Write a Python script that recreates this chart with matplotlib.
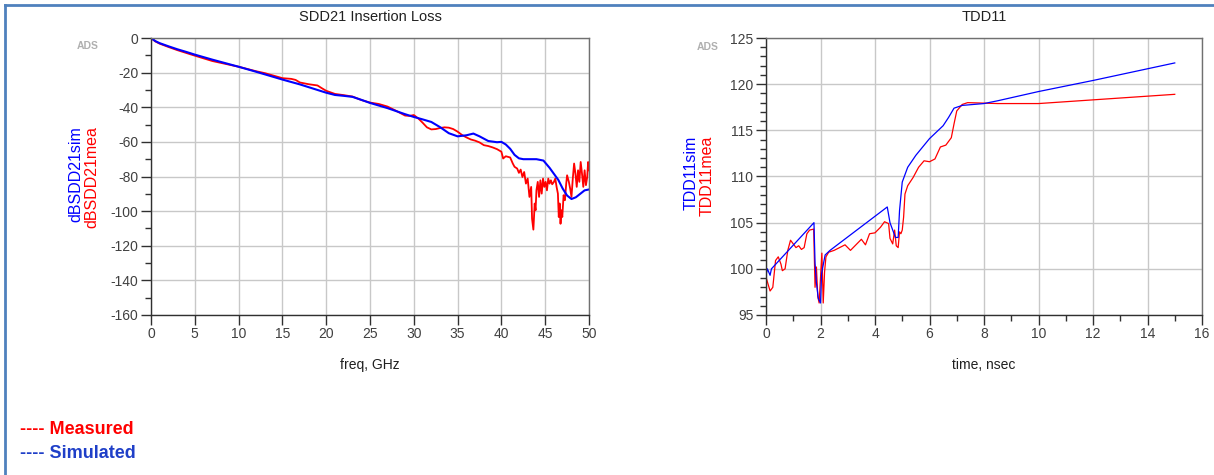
import matplotlib
matplotlib.use("Agg")
import matplotlib.pyplot as plt
from matplotlib.lines import Line2D
from matplotlib.ticker import MultipleLocator

plt.rcParams['font.family'] = ['Liberation Sans', 'DejaVu Sans']
plt.rcParams['axes.unicode_minus'] = False

# SDD21 insertion loss (dB) vs frequency (GHz)
freq_sim = [0, 0.5, 1, 2, 3, 4, 5, 7, 10, 12, 15, 17, 19, 20, 21, 22, 23, 24, 25, 27,
            29, 30, 31, 32, 33, 34, 35, 36, 36.8, 37.5, 38.5, 39.5, 40, 40.5, 41, 41.5,
            42, 42.5, 43, 44, 44.8, 45.5, 46, 46.5, 47, 47.5, 48, 48.5, 49, 49.5, 50]
sdd21_sim = [0, -1.8, -3.0, -4.8, -6.5, -8.0, -9.6, -12.5, -16.6, -19.5, -24.0, -26.8,
             -30.0, -31.6, -32.9, -33.4, -34.0, -35.7, -37.5, -40.5, -44.0, -45.6, -47.0,
             -48.5, -51.5, -55.0, -56.8, -56.2, -55.2, -56.8, -59.5, -60.2, -60.0, -61.5,
             -64.0, -67.5, -69.5, -70.0, -70.0, -70.0, -70.8, -75.0, -78.5, -82.0, -87.0,
             -91.0, -93.0, -92.0, -90.0, -88.0, -87.5]

freq_mea = [0, 0.5, 1, 2, 3, 4, 5, 7, 10, 12, 13, 15, 16, 16.5, 17, 18, 19, 19.5, 20, 21,
            22, 23, 24, 25, 26, 27, 28, 29, 29.5, 30, 30.5, 31, 31.5, 32, 32.5, 33, 33.5,
            34, 34.5, 35, 35.5, 36, 36.5, 37, 37.5, 38, 38.5, 39, 39.5, 40, 40.2, 40.5, 41,
            41.3, 41.5, 41.8, 42, 42.2, 42.4, 42.6, 42.8, 43.0, 43.2, 43.4, 43.5, 43.65,
            43.8, 43.9, 44.0, 44.15, 44.3, 44.45, 44.6, 44.75, 44.9, 45.05, 45.2, 45.35,
            45.5, 45.65, 45.8, 46.0, 46.15, 46.3, 46.45, 46.55, 46.65, 46.75, 46.85, 46.95,
            47.1, 47.25, 47.4, 47.5, 47.7, 47.85, 48.0, 48.15, 48.3, 48.45, 48.6, 48.75,
            48.9, 49.05, 49.2, 49.35, 49.5, 49.65, 49.8, 49.9, 50]
sdd21_mea = [0, -2.0, -3.3, -5.2, -7.0, -8.6, -10.2, -13.3, -16.6, -19.2, -20.3, -23.2,
             -23.6, -24.2, -25.7, -26.7, -27.4, -29.0, -30.5, -32.3, -33.0, -33.8, -35.8,
             -37.3, -38.1, -39.6, -42.1, -44.8, -45.0, -44.5, -46.4, -48.9, -51.6, -52.8,
             -52.6, -52.0, -51.6, -51.8, -52.6, -54.1, -56.0, -57.4, -58.6, -59.3, -60.3,
             -61.9, -62.4, -63.2, -64.2, -65.7, -69.6, -68.3, -69.0, -72.5, -74.4, -75.4,
             -77.9, -76.0, -80.3, -77.4, -84.1, -81.2, -91.8, -86.0, -104.4, -110.7, -95.6,
             -99.5, -88.0, -83.1, -91.8, -82.2, -89.9, -81.2, -86.0, -83.1, -88.0, -81.2,
             -84.1, -82.2, -84.5, -83.1, -81.2, -86.0, -89.9, -103.4, -95.6, -107.3, -99.5,
             -103.4, -90.8, -93.7, -84.1, -79.3, -83.1, -87.0, -91.8, -81.2, -72.5, -78.3,
             -86.0, -76.4, -83.1, -71.6, -78.3, -86.0, -76.4, -85.0, -80.2, -71.6, -76.4]

# TDD11 impedance (Ohm) vs time (ns)
t_sim = [0, 0.05, 0.15, 0.2, 1.76, 1.8, 1.85, 1.92, 2.0, 2.04, 2.17, 2.35, 4.45, 4.55,
         4.65, 4.75, 4.85, 4.9, 5.0, 5.2, 5.5, 6.0, 6.5, 6.7, 6.9, 7.2, 8.0, 8.5, 10, 12, 15]
tdd11_sim = [99.3, 100.0, 99.3, 100.0, 105.0, 100.6, 98.5, 96.8, 96.3, 99.5, 101.5,
             102.0, 106.7, 105.0, 104.2, 103.4, 103.4, 106.3, 109.4, 111.0, 112.3, 114.1,
             115.5, 116.4, 117.4, 117.7, 117.9, 118.2, 119.2, 120.4, 122.3]

t_mea = [0, 0.15, 0.25, 0.35, 0.45, 0.55, 0.6, 0.7, 0.8, 0.9, 1.0, 1.1, 1.2, 1.3, 1.4,
         1.5, 1.6, 1.75, 1.78, 1.8, 1.85, 1.9, 1.95, 2.0, 2.05, 2.1, 2.15, 2.2, 2.3, 2.5,
         2.7, 2.9, 3.1, 3.3, 3.5, 3.65, 3.8, 4.0, 4.2, 4.35, 4.5, 4.55, 4.65, 4.72, 4.78,
         4.85, 4.9, 4.95, 5.0, 5.05, 5.1, 5.2, 5.4, 5.6, 5.8, 6.0, 6.2, 6.4, 6.6, 6.8, 6.9,
         7.0, 7.2, 7.4, 8.5, 10, 12, 15]
tdd11_mea = [99.1, 97.6, 98.0, 100.9, 101.3, 100.5, 99.8, 100.0, 102.0, 103.1, 102.7,
             102.3, 102.5, 102.1, 102.3, 103.8, 104.2, 104.3, 100.5, 98.0, 100.2, 97.0,
             96.3, 99.0, 101.7, 96.3, 99.7, 101.3, 101.8, 102.0, 102.3, 102.6, 102.0, 102.6,
             103.2, 102.6, 103.8, 103.9, 104.5, 105.1, 104.9, 103.3, 102.7, 104.2, 102.5,
             102.3, 104.0, 103.8, 104.2, 105.6, 108.1, 109.0, 109.9, 111.0, 111.7, 111.6,
             111.9, 113.2, 113.4, 114.2, 115.7, 117.1, 117.8, 118.0, 117.9, 117.9, 118.3,
             118.9]

W, H = 1214, 475
fig = plt.figure(figsize=(W / 100, H / 100), dpi=100)
fig.patch.set_facecolor('white')

tick_col = '#404040'
grid_col = '#c8c8c8'


def style_axes(ax):
    ax.grid(True, which='major', color=grid_col, linewidth=1.0)
    ax.set_axisbelow(True)
    for side in ['left', 'bottom']:
        ax.spines[side].set_color('#303030')
        ax.spines[side].set_linewidth(1.0)
    for side in ['top', 'right']:
        ax.spines[side].set_color('#707070')
        ax.spines[side].set_linewidth(1.0)
    ax.tick_params(which='major', direction='out', length=7, width=1, color='#303030',
                   labelsize=10, labelcolor=tick_col, pad=2)
    ax.tick_params(which='minor', direction='out', length=4, width=1, color='#303030')


# left plot: SDD21
ax1 = fig.add_axes([151 / W, 1 - 315 / H, 438 / W, 277 / H])
ax1.plot(freq_mea, sdd21_mea, color='#ff0000', linewidth=1.3)
ax1.plot(freq_sim, sdd21_sim, color='#0000ff', linewidth=1.5)
ax1.set_xlim(0, 50)
ax1.set_ylim(-160, 0)
ax1.xaxis.set_major_locator(MultipleLocator(5))
ax1.yaxis.set_major_locator(MultipleLocator(20))
ax1.yaxis.set_minor_locator(MultipleLocator(10))
style_axes(ax1)
ax1.set_title('SDD21 Insertion Loss', fontsize=10.5, color='#202020', pad=12)
ax1.set_xlabel('freq, GHz', fontsize=10, color='#202020', labelpad=12)

# right plot: TDD11
ax2 = fig.add_axes([766 / W, 1 - 315 / H, 436 / W, 277 / H])
ax2.plot(t_mea, tdd11_mea, color='#ff0000', linewidth=0.9)
ax2.plot(t_sim, tdd11_sim, color='#0000ff', linewidth=0.9)
ax2.set_xlim(0, 16)
ax2.set_ylim(95, 125)
ax2.xaxis.set_major_locator(MultipleLocator(2))
ax2.xaxis.set_minor_locator(MultipleLocator(1))
ax2.yaxis.set_major_locator(MultipleLocator(5))
ax2.yaxis.set_minor_locator(MultipleLocator(1))
style_axes(ax2)
ax2.set_title('TDD11', fontsize=10.5, color='#202020', pad=12)
ax2.set_xlabel('time, nsec', fontsize=10, color='#202020', labelpad=12)

# two-colour y labels
fig.text(76 / W, 1 - 126 / H, 'dBSDD21sim', color='#0000ff', fontsize=11.5,
         rotation=90, ha='center', va='top')
fig.text(92 / W, 1 - 126 / H, 'dBSDD21mea', color='#ff0000', fontsize=11.5,
         rotation=90, ha='center', va='top')
fig.text(691 / W, 1 - 136 / H, 'TDD11sim', color='#0000ff', fontsize=11.5,
         rotation=90, ha='center', va='top')
fig.text(707 / W, 1 - 136 / H, 'TDD11mea', color='#ff0000', fontsize=11.5,
         rotation=90, ha='center', va='top')

# ADS watermarks
fig.text(88 / W, 1 - 46 / H, 'ADS', color='#b0b0b0', fontsize=7.5, fontweight='bold',
         ha='center', va='center')
fig.text(708 / W, 1 - 47 / H, 'ADS', color='#b0b0b0', fontsize=7.5, fontweight='bold',
         ha='center', va='center')

# legend text
fig.text(20 / W, 1 - 429 / H, '---- Measured', color='#ff0000', fontsize=13,
         fontweight='bold', ha='left', va='center')
fig.text(20 / W, 1 - 454 / H, '---- Simulated', color='#1f3fc8', fontsize=13,
         fontweight='bold', ha='left', va='center')

# outer frame
fig.add_artist(Line2D([5 / W, 1], [1 - 5 / H, 1 - 5 / H], transform=fig.transFigure,
                      color='#4f81bd', linewidth=2))
fig.add_artist(Line2D([5 / W, 5 / W], [0, 1 - 5 / H], transform=fig.transFigure,
                      color='#4f81bd', linewidth=2))

fig.savefig('out.png', dpi=100)
